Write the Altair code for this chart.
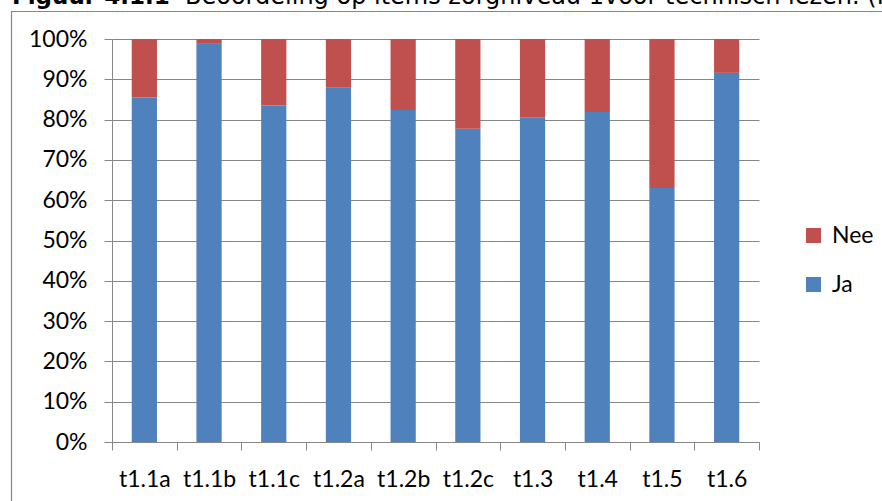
import altair as alt
import pandas as pd

# Items and the share of "Ja" / "Nee" answers (percent)
items = ["t1.1a", "t1.1b", "t1.1c", "t1.2a", "t1.2b", "t1.2c", "t1.3", "t1.4", "t1.5", "t1.6"]
ja = [85.5, 98.8, 83.5, 87.9, 82.4, 77.7, 80.6, 81.9, 63.0, 91.6]
nee = [14.5, 1.2, 16.5, 12.1, 17.6, 22.3, 19.4, 18.1, 37.0, 8.4]

series = ["Nee", "Ja"]
colors = ["#C0504D", "#4F81BD"]

rows = []
for i, item in enumerate(items):
    rows.append({"item": item, "answer": "Ja", "pct": ja[i], "rank": 0})
    rows.append({"item": item, "answer": "Nee", "pct": nee[i], "rank": 1})
df = pd.DataFrame(rows)

GRID = "#868686"
LABEL_FONT = "Lato"

bars = alt.Chart(df).mark_bar(width=alt.RelativeBandSize(0.39)).encode(
    x=alt.X(
        "item:N",
        sort=items,
        scale=alt.Scale(paddingInner=0, paddingOuter=0),
        axis=alt.Axis(
            title=None,
            labelAngle=0,
            tickBand="extent",
            grid=False,
            domainColor=GRID,
            tickColor=GRID,
            tickSize=8,
            labelPadding=18,
            labelFontSize=23,
            labelFont=LABEL_FONT,
            labelColor="#000000",
        ),
    ),
    y=alt.Y(
        "pct:Q",
        stack="zero",
        scale=alt.Scale(domain=[0, 100], nice=False),
        axis=alt.Axis(
            title=None,
            values=[0, 10, 20, 30, 40, 50, 60, 70, 80, 90, 100],
            labelExpr="datum.value + '%'",
            grid=True,
            gridColor=GRID,
            gridWidth=1,
            domainColor=GRID,
            tickColor=GRID,
            tickSize=8,
            labelPadding=17,
            labelFontSize=23,
            labelFont=LABEL_FONT,
            labelColor="#000000",
        ),
    ),
    color=alt.Color(
        "answer:N",
        scale=alt.Scale(domain=series, range=colors),
        legend=alt.Legend(
            title=None,
            orient="none",
            legendX=690,
            legendY=185,
            symbolType="square",
            symbolSize=225,
            symbolStrokeWidth=0,
            symbolOpacity=1,
            labelFontSize=23,
            labelFont=LABEL_FONT,
            labelColor="#000000",
            labelOffset=7,
            rowPadding=25,
            padding=0,
        ),
    ),
    order=alt.Order("rank:Q"),
)

# Heading line of the figure (bold number followed by the caption)
blank = alt.Data(values=[{}])
heading_bold = alt.Chart(blank).mark_text(
    text="Figuur 4.1.1",
    font="DejaVu Sans",
    fontWeight="bold",
    fontSize=23,
    align="left",
    baseline="alphabetic",
    color="#000000",
).encode(x=alt.value(-100), y=alt.value(-35))

heading = alt.Chart(blank).mark_text(
    text="Beoordeling op items zorgniveau 1voor technisch lezen. (I",
    font="DejaVu Sans",
    fontSize=24,
    align="left",
    baseline="alphabetic",
    color="#000000",
).encode(x=alt.value(73), y=alt.value(-35))

# Frame around the chart area
frame = alt.Chart(blank).mark_rect(
    fillOpacity=0, stroke=GRID, strokeWidth=1.2
).encode(
    x=alt.value(-100.5), x2=alt.value(820), y=alt.value(-27.5), y2=alt.value(520)
)

chart = alt.layer(frame, bars, heading_bold, heading).properties(
    width=647,
    height=403,
    padding={"left": 112, "top": 39, "right": 123, "bottom": 59},
    autosize=alt.AutoSizeParams(type="none"),
    background="#ffffff",
).configure_view(stroke=None)

chart.save("out.html", embed_options={"renderer": "svg", "actions": False})
